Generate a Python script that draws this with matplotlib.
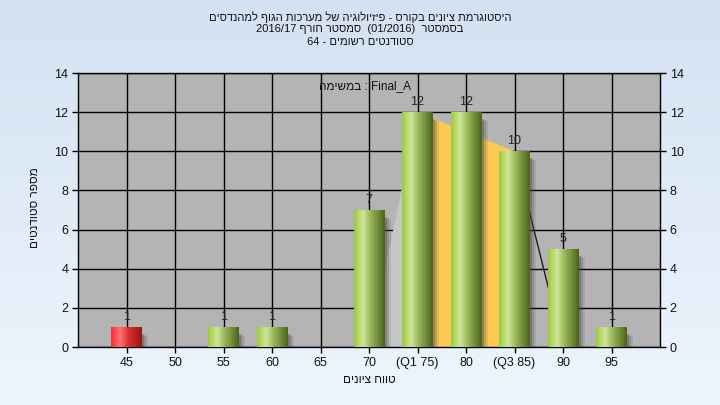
import numpy as np
import matplotlib
matplotlib.use("Agg")
import matplotlib.pyplot as plt
from matplotlib.colors import LinearSegmentedColormap
from matplotlib.patches import Rectangle, Polygon

plt.rcParams['font.family'] = ['Liberation Sans', 'DejaVu Sans']

# ---- data ----
categories = ["45", "50", "55", "60", "65", "70", "(Q1 75)", "80", "(Q3 85)", "90", "95"]
values = [1, 0, 1, 1, 0, 7, 12, 12, 10, 5, 1]
failing = [True, False, False, False, False, False, False, False, False, False, False]
q1_index = 6
q3_index = 8
y_ticks = [0, 2, 4, 6, 8, 10, 12, 14]

# Hebrew strings written in visual (left-to-right) order
title_lines = [
    "םיסדנהמל ףוגה תוכרעמ לש היגולויזיפ - סרוקב םינויצ תמרגוטסיה",
    "2016/17 ףרוח רטסמס  (01/2016)  רטסמסב",
    "64 - םימושר םיטנדוטס",
]
xlabel = "םינויצ חווט"
ylabel = "םיטנדוטס רפסמ"
task_label = "המישמב : Final_A"

W, H = 720, 405
fig = plt.figure(figsize=(W / 100, H / 100), dpi=100)

# background gradient
bg = fig.add_axes([0, 0, 1, 1], zorder=-10)
grad = np.linspace(0, 1, 256).reshape(-1, 1)
bg_cmap = LinearSegmentedColormap.from_list("bg", ["#d3e1f2", "#eef6fd"])
bg.imshow(grad, aspect='auto', cmap=bg_cmap, extent=[0, 1, 0, 1], origin='upper')
bg.set_axis_off()

ax = fig.add_axes([78 / W, 1 - 347 / H, (660 - 78) / W, (347 - 73) / H])
ax.set_facecolor("#b4b4b4")
n = len(categories)
xs = np.arange(n)
ax.set_xlim(-1, n)
ax.set_ylim(0, 14)

# grid
for y in y_ticks:
    ax.axhline(y, color="black", lw=1, zorder=1)
for x in xs:
    ax.axvline(x, color="black", lw=1, zorder=1)

# distribution shapes
ax.add_patch(Polygon([(q1_index - 1, 0), (q1_index, values[q1_index]), (q1_index, 0)],
                     closed=True, facecolor="#c6c6c6", edgecolor="none", zorder=2))
ax.add_patch(Polygon([(q1_index, 0), (q1_index, values[q1_index]),
                      (q3_index, values[q3_index]), (q3_index, 0)],
                     closed=True, facecolor="#fdc955", edgecolor="none", zorder=2))
ax.plot([q3_index, q3_index + 1], [values[q3_index], 0], color="#202020", lw=1, zorder=2)

green_cmap = LinearSegmentedColormap.from_list(
    "g", [(0, "#9cc93c"), (0.12, "#b3d861"), (0.3, "#cde69a"), (0.5, "#a2bd62"),
          (0.8, "#6c8a34"), (1, "#4a6320")])
red_cmap = LinearSegmentedColormap.from_list(
    "r", [(0, "#ff2a2a"), (0.3, "#ff7373"), (0.55, "#e03030"), (1, "#9c1515")])
hgrad = np.linspace(0, 1, 64).reshape(1, -1)

bw = 0.62
for x, v, f in zip(xs, values, failing):
    if v <= 0:
        continue
    # shadow
    for k, a in enumerate([0.30, 0.20, 0.12]):
        ax.add_patch(Rectangle((x + bw / 2, -0.1), 0.04 * (k + 1) + 0.02, v - 0.25 - 0.05 * k,
                               facecolor="#404040", alpha=a, edgecolor="none", zorder=2.5))
    ax.imshow(hgrad, aspect='auto', cmap=red_cmap if f else green_cmap,
              extent=[x - bw / 2, x + bw / 2, 0, v], zorder=3, interpolation='bilinear')
    ax.annotate(str(v), (x, v), xytext=(0, 3), textcoords="offset points",
                ha="center", va="bottom", fontsize=9, color="#222222", zorder=5)

ax.set_xlim(-1, n)
ax.set_ylim(0, 14)
ax.set_xticks(xs)
ax.set_xticklabels(categories)
ax.set_yticks(y_ticks)
ax.tick_params(axis='both', direction='out', length=4, width=1, color='black',
               labelsize=9, labelcolor="#111111", pad=3)
ax.tick_params(axis='y', right=True, labelright=True)
for s in ax.spines.values():
    s.set_color("black")
    s.set_linewidth(1)

ax.text(0.5 - 4 / 582, 0.975, task_label, transform=ax.transAxes, ha="center", va="top",
        fontsize=8.5, color="#111111", zorder=6)

ys = [17, 29.5, 42]
for line, y in zip(title_lines, ys):
    fig.text(0.5, 1 - y / H, line, ha="center", va="center", fontsize=8, color="#111111")

fig.text(369 / W, 1 - 380 / H, xlabel, ha="center", va="center", fontsize=8.5, color="#111111")
fig.text(35 / W, 1 - 208 / H, ylabel, ha="center", va="center", rotation=90,
         fontsize=8.5, color="#111111")

fig.savefig("out.png", dpi=100)
